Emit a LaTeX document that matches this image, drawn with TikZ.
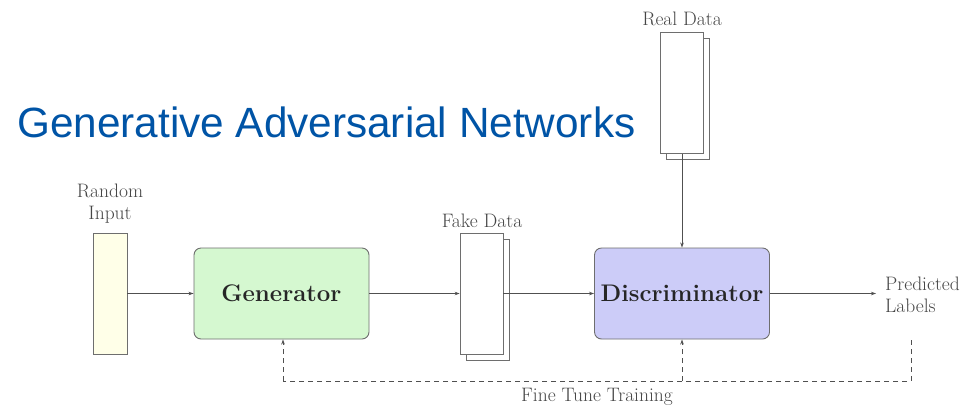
\documentclass[tikz,border=0pt]{standalone}
\usepackage{fontspec}
\newfontfamily\titlefont{Liberation Sans}
\usetikzlibrary{arrows.meta}
\definecolor{titleblue}{RGB}{0,84,166}
\definecolor{linegray}{RGB}{80,80,80}
\definecolor{boxgray}{RGB}{110,110,110}
\definecolor{txtgray}{RGB}{70,70,70}
\definecolor{genfill}{RGB}{213,248,208}
\definecolor{disfill}{RGB}{204,204,248}
\definecolor{randfill}{RGB}{255,255,232}
\tikzset{
  conn/.style={draw=linegray, line width=0.8pt, -{Stealth[length=5pt,width=3.5pt]}},
  dconn/.style={draw=linegray, line width=0.9pt, dash pattern=on 5pt off 4pt},
  bigbox/.style={draw=boxgray, line width=0.9pt, rounded corners=7pt, minimum width=175pt, minimum height=91pt, font=\fontsize{24}{28}\selectfont\bfseries, text=black!85, inner sep=0pt},
  datarect/.style={draw=boxgray, line width=0.8pt, fill=white, minimum width=43pt, minimum height=121pt, inner sep=0pt},
  lbl/.style={font=\fontsize{19.5}{21.5}\selectfont, text=txtgray, inner sep=0pt, align=center},
}
\begin{document}
\begin{tikzpicture}[x=1pt,y=-1pt]
\useasboundingbox (0,0) rectangle (973,408);
\fill[white] (0,0) rectangle (973,408);
% title
\node[anchor=base west, inner sep=0pt, text=titleblue, font=\titlefont\fontsize{42.3}{48}\selectfont] (title) at (17,137) {Generative Adversarial Networks};
% random input
\node[draw=boxgray, line width=0.8pt, fill=randfill, minimum width=34pt, minimum height=121pt, inner sep=0pt] (rand) at (110,293.5) {};
\node[lbl, anchor=base] (randl) at (110,219) {Random\\Input};
% generator
\node[bigbox, fill=genfill] (gen) at (281.5,293.5) {Generator};
% fake data
\node[datarect] (fakeb) at (487.5,299.5) {};
\node[datarect] (fake) at (481.5,293.5) {};
\node[lbl, anchor=base] (fakel) at (482,227) {Fake Data};
% discriminator
\node[bigbox, fill=disfill] (dis) at (682,293.5) {Discriminator};
% real data
\node[datarect] (realb) at (688,99) {};
\node[datarect] (real) at (682,93) {};
\node[lbl, anchor=base] (reall) at (682,25) {Real Data};
% predicted labels
\node[lbl, anchor=base west, align=left] (pred) at (885,312) {Predicted\\Labels};
\coordinate (predarr) at (876,293.5);
% arrows
\draw[conn] (rand.east) -- (gen.west);
\draw[conn] (gen.east) -- (fake.west);
\draw[conn] (fake.east) -- (dis.west);
\draw[conn] (real.south) -- (dis.north);
\draw[conn] (dis.east) -- (predarr);
% fine tune
\coordinate (c1) at (911,340);
\coordinate (c2) at (911,381);
\coordinate (c3) at (283,381);
\coordinate (c4) at (682,381);
\draw[dconn] (c1) -- (c2) -- (c3);
\draw[dconn, -{Stealth[length=5pt,width=3.5pt]}] (c3) -- (gen.south -| c3);
\draw[dconn, -{Stealth[length=5pt,width=3.5pt]}] (c4) -- (dis.south);
\node[lbl, anchor=base] (ftl) at (597,401) {Fine Tune Training};
\end{tikzpicture}
\end{document}
